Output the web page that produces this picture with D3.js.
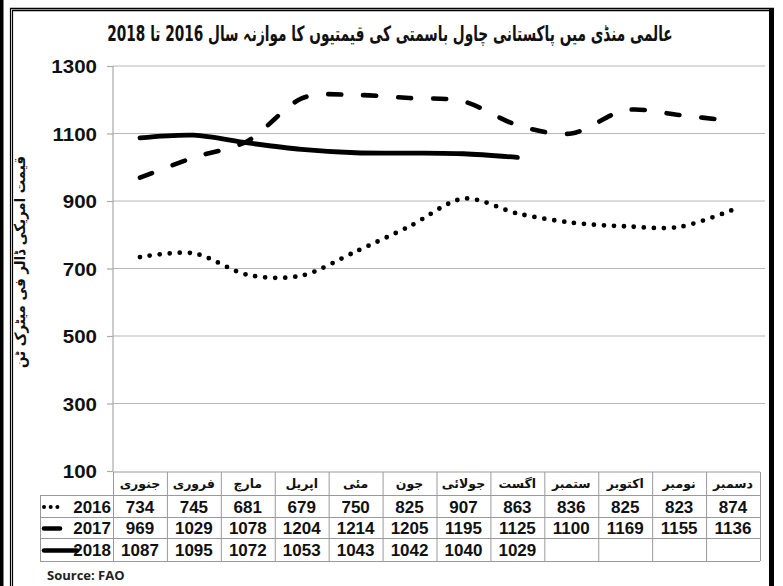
<!DOCTYPE html>
<html><head><meta charset="utf-8">
<script src="https://cdn.jsdelivr.net/npm/d3@7/dist/d3.min.js"></script>
<style>html,body{margin:0;padding:0;background:#fff;}svg{display:block;}</style>
</head><body>
<svg id="c" width="783" height="586"></svg>
<script>
const titleText = "عالمی منڈی میں پاکستانی چاول باسمتی کی قیمتیوں کا موازنہ سال 2016  تا 2018";
const yLabel = "قیمت امریکی ڈالر فی میٹرک ٹن";
const months = ["جنوری","فروری","مارچ","اپریل","مئی","جون","جولائی","اگست","ستمبر","اکتوبر","نومبر","دسمبر"];
const years = ["2016","2017","2018"];
const v2016 = [734,745,681,679,750,825,907,863,836,825,823,874];
const v2017 = [969,1029,1078,1204,1214,1205,1195,1125,1100,1169,1155,1136];
const v2018 = [1087,1095,1072,1053,1043,1042,1040,1029];
const yTicks = [100,300,500,700,900,1100,1300];
const source = "Source: FAO";

const series = [v2016, v2017, v2018];
const styles = [
  {w:4.8, dash:"0,10", cap:"round"},
  {w:4.6, dash:"13,22", cap:"round"},
  {w:4.8, dash:null, cap:"round"}
];

const svg = d3.select("#c");
const urdu = "'DejaVu Sans', sans-serif";
const latin = "'Liberation Sans', Arial, sans-serif";

// frame
svg.append("rect").attr("x",0).attr("y",0).attr("width",3.5).attr("height",586).attr("fill","#000");
svg.append("line").attr("x1",10.5).attr("x2",10.5).attr("y1",8).attr("y2",586).attr("stroke","#000").attr("stroke-width",1.2);
svg.append("line").attr("x1",12.5).attr("x2",12.5).attr("y1",10).attr("y2",586).attr("stroke","#000").attr("stroke-width",1.2);
svg.append("line").attr("x1",10).attr("x2",774).attr("y1",8.5).attr("y2",8.5).attr("stroke","#000").attr("stroke-width",1.6);
svg.append("line").attr("x1",12).attr("x2",774).attr("y1",10.5).attr("y2",10.5).attr("stroke","#000").attr("stroke-width",1.4);
svg.append("rect").attr("x",769).attr("y",8).attr("width",5).attr("height",578).attr("fill","#000");

// scales
const x = d3.scaleBand().domain(months).range([113,760]);
const y = d3.scaleLinear().domain([100,1300]).range([471,66]);
const cx = m => x(m) + x.bandwidth()/2;

// grid
svg.append("g").selectAll("line").data(yTicks.slice(1)).join("line")
  .attr("x1",113).attr("x2",765).attr("y1",d=>y(d)).attr("y2",d=>y(d))
  .attr("stroke","#b8b8b8").attr("stroke-width",1.2);

// y axis
const yAxis = d3.axisLeft(y).tickValues(yTicks).tickSize(6).tickPadding(10).tickFormat(d3.format("d"));
const ga = svg.append("g").attr("transform","translate(113,0)").call(yAxis);
ga.select(".domain").attr("stroke","#aaa").attr("stroke-width",1.2).attr("d","M0,"+y(1300)+"V"+y(100));
ga.selectAll(".tick line").attr("stroke","#aaa").attr("stroke-width",1.2);
ga.selectAll(".tick text").attr("font-family",latin).attr("font-weight","bold").attr("font-size",19).attr("fill","#111").attr("dy","0.35em")
  .attr("transform","scale(1.08,1)").attr("x",-16/1.08*1.0);

// title (scaled horizontally to fit reference width)
const tG = svg.append("g");
const t = tG.append("text").attr("x",0).attr("y",0).attr("text-anchor","middle")
  .attr("direction","rtl").attr("font-family",urdu).attr("font-weight","bold")
  .attr("font-size",21).attr("fill","#111").text(titleText);
let tw = t.node().getComputedTextLength();
tG.attr("transform","translate(390,41) scale("+(565/tw)+",1)");

// y label
const ylG = svg.append("g");
const yl = ylG.append("text").attr("x",0).attr("y",0)
  .attr("text-anchor","middle").attr("direction","rtl").attr("font-family",urdu)
  .attr("font-weight","bold").attr("font-size",15).attr("fill","#111").text(yLabel);
let lw = yl.node().getComputedTextLength();
ylG.attr("transform","translate(25,262) rotate(-90) scale("+(212/lw)+",1)");

// lines
const line = d3.line().x((d,i)=>cx(months[i])).y(d=>y(d)).curve(d3.curveCardinal.tension(0.1));
series.forEach((s,k)=>{
  const p = svg.append("path").datum(s).attr("d",line).attr("fill","none")
    .attr("stroke","#000").attr("stroke-width",styles[k].w).attr("stroke-linecap",styles[k].cap)
    .attr("stroke-linejoin","round");
  if(styles[k].dash) p.attr("stroke-dasharray",styles[k].dash);
});

// table
const rowTop = [495,517,538];
const rowBot = 561;
const tg = svg.append("g");
const gridC = "#9a9a9a";
tg.append("line").attr("x1",113).attr("x2",760).attr("y1",472).attr("y2",472).attr("stroke",gridC);
rowTop.concat([rowBot]).forEach(yy=>{
  tg.append("line").attr("x1",40).attr("x2",760).attr("y1",yy+0.5).attr("y2",yy+0.5).attr("stroke",gridC);
});
tg.append("line").attr("x1",40.5).attr("x2",40.5).attr("y1",495).attr("y2",rowBot).attr("stroke",gridC);
months.forEach(m=>{
  tg.append("line").attr("x1",x(m)+0.5).attr("x2",x(m)+0.5).attr("y1",472).attr("y2",rowBot).attr("stroke",gridC);
});
tg.append("line").attr("x1",760.5).attr("x2",760.5).attr("y1",472).attr("y2",rowBot).attr("stroke",gridC);

// header
tg.selectAll("text.m").data(months).join("text").attr("class","m")
  .attr("x",d=>cx(d)).attr("y",488).attr("text-anchor","middle").attr("direction","rtl")
  .attr("font-family",urdu).attr("font-size",12.5).attr("font-weight","bold").attr("fill","#111").text(d=>d);

// values
series.forEach((s,k)=>{
  const mid = ((k<2? rowTop[k+1] : rowBot) + rowTop[k])/2;
  tg.selectAll("text.v"+k).data(s).join("text").attr("class","v"+k)
    .attr("x",(d,i)=>cx(months[i])).attr("y",mid+6.5).attr("text-anchor","middle")
    .attr("font-family",latin).attr("font-weight","bold").attr("font-size",17).attr("fill","#111")
    .text(d=>d);
  tg.append("text").attr("x",111).attr("y",mid+6.5).attr("text-anchor","end")
    .attr("font-family",latin).attr("font-weight","bold").attr("font-size",17).attr("fill","#111")
    .text(years[k]);
  const lx2 = k===0 ? 64 : k===1 ? 60 : 77;
  const ls = tg.append("line").attr("x1",44).attr("x2",lx2).attr("y1",mid+1).attr("y2",mid+1)
    .attr("stroke","#000").attr("stroke-linecap","round")
    .attr("stroke-width", k===0?4:4.6);
  if(k===0) ls.attr("stroke-dasharray","0,6.7");
});

// source
svg.append("text").attr("x",47).attr("y",580).attr("font-family","'Open Sans', sans-serif")
  .attr("font-weight","bold").attr("font-size",13).attr("fill","#222").text(source);
</script>
</body></html>
